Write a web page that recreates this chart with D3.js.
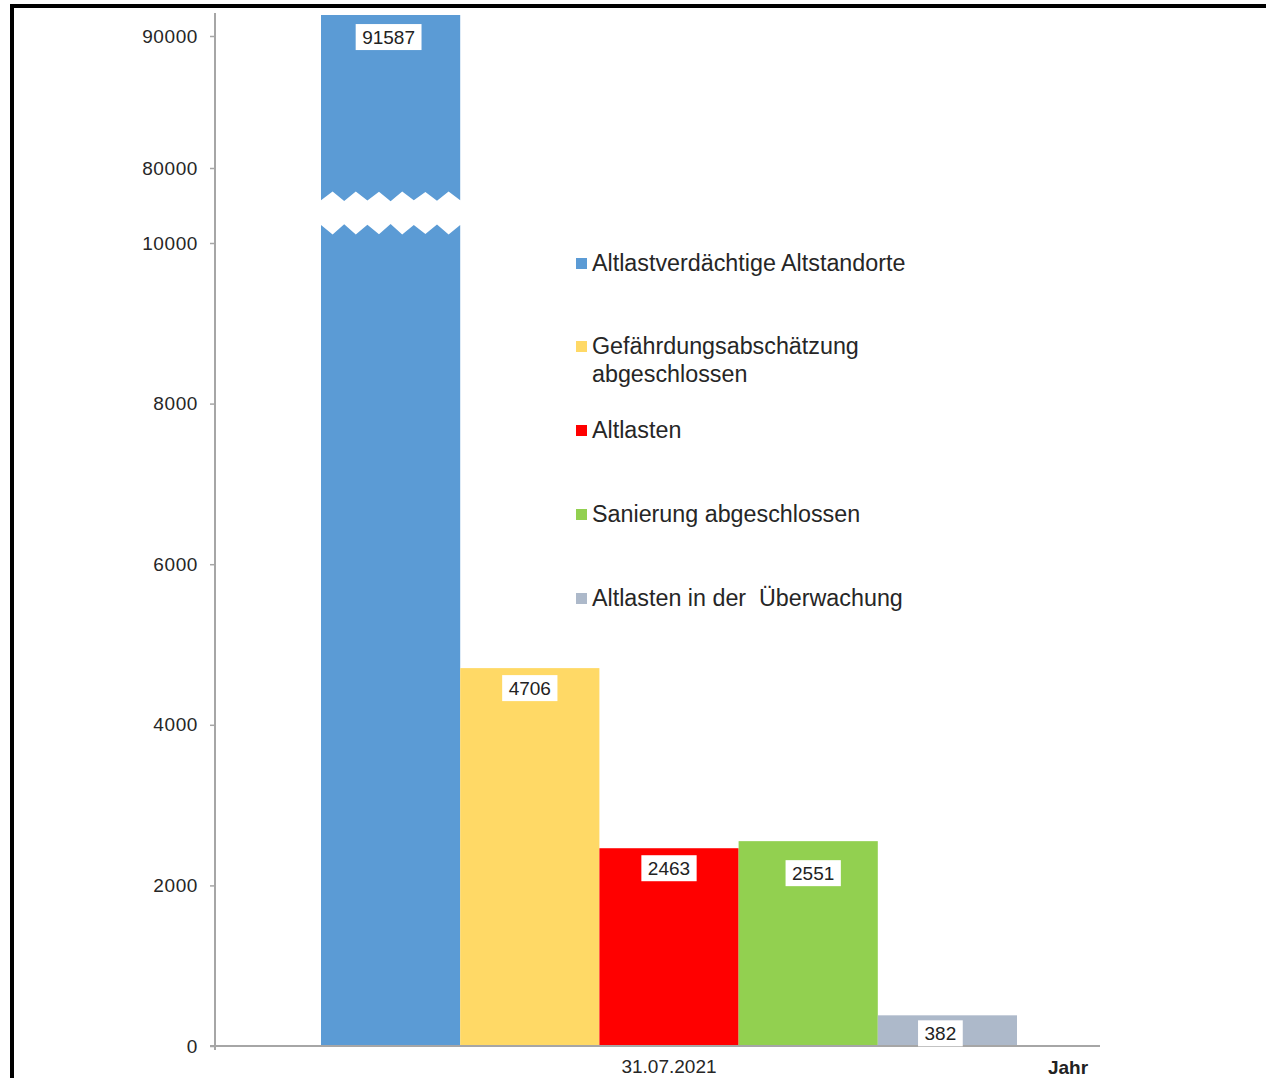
<!DOCTYPE html>
<html>
<head>
<meta charset="utf-8">
<script src="https://cdn.jsdelivr.net/npm/d3@7"></script>
<style>
  html, body { margin: 0; padding: 0; background: #fff; }
  svg { display: block; }
  text { font-family: "Liberation Sans", Arial, sans-serif; }
</style>
</head>
<body>
<svg id="chart" width="1266" height="1078"></svg>
<script>
// ---- data ----
const categories = ["31.07.2021"];
const seriesNames = [
  "Altlastverdächtige Altstandorte",
  "Gefährdungsabschätzung abgeschlossen",
  "Altlasten",
  "Sanierung abgeschlossen",
  "Altlasten in der  Überwachung"
];
const seriesValues = [91587, 4706, 2463, 2551, 382];
const lowerTicks = [0, 2000, 4000, 6000, 8000, 10000];
const upperTicks = [80000, 90000];
const legendLines = [
  ["Altlastverdächtige Altstandorte"],
  ["Gefährdungsabschätzung", "abgeschlossen"],
  ["Altlasten"],
  ["Sanierung abgeschlossen"],
  ["Altlasten in der  Überwachung"]
];
const seriesColors = ["#5B9BD5", "#FFD966", "#FF0000", "#92D050", "#ADB9CA"];
const xAxisTitle = "Jahr";

// label nudges (layout only)
const labelDy = [22, 20, 20, 32, 18];
const labelDx = [-2, 0, 0, 5, -7];

// ---- layout ----
const svg = d3.select("#chart");
const axisColor = "#a6a6a6";
const textColor = "#262626";

const axisX = 215, axisBottom = 1046, axisTop = 13, axisRight = 1100;

const yLow = d3.scaleLinear().domain([0, 10000]).range([1046, 243]);
const yUp = d3.scaleLinear().domain([80000, 90000]).range([168, 36]);
const lowerMaxShown = 10180;
const upperMinShown = 77650;
const yOf = v => v <= lowerMaxShown ? yLow(v) : yUp(v);

const xCat = d3.scaleBand().domain(categories).range([321, 1017]).padding(0);
const xSer = d3.scaleBand().domain(seriesNames).range(xCat.range()).padding(0);

// frame
svg.append("path")
  .attr("d", "M12,1078 L12,6 L1266,6")
  .attr("fill", "none").attr("stroke", "#000").attr("stroke-width", 4);

function zig(x0, x1, yc, amp, flip) {
  const n = 12;
  const pts = [];
  const pattern = [0, 1, 0.3, 1, 0.1, 0.9, 0.4, 1, 0, 0.8, 0.2, 1, 0];
  for (let i = n; i >= 0; i--) {
    const x = x0 + (x1 - x0) * i / n;
    const up = (i % 2 === 0) ? 1 : -1;
    const j = pattern[i] * 0.4 + 0.6;
    pts.push([x, yc + (flip ? -1 : 1) * up * amp * j]);
  }
  return pts;
}

const barsG = svg.append("g");
seriesNames.forEach((name, i) => {
  const v = seriesValues[i];
  const x0 = xSer(name), x1 = x0 + xSer.bandwidth();
  const col = seriesColors[i];
  if (v > lowerMaxShown) {
    const yTop = yUp(v), yCut = yUp(upperMinShown);
    let p = `M${x0},${yTop} L${x1},${yTop} `;
    zig(x0, x1, yCut - 2, 5.5, false).forEach(pt => p += `L${pt[0]},${pt[1]} `);
    barsG.append("path").attr("d", p + "Z").attr("fill", col);
    const yc = yLow(lowerMaxShown);
    let q = `M${x0},${axisBottom} L${x1},${axisBottom} `;
    zig(x0, x1, yc, 6, true).forEach(pt => q += `L${pt[0]},${pt[1]} `);
    barsG.append("path").attr("d", q + "Z").attr("fill", col);
  } else {
    barsG.append("rect")
      .attr("x", x0).attr("y", yLow(v))
      .attr("width", x1 - x0).attr("height", axisBottom - yLow(v))
      .attr("fill", col);
  }
});

// y axes
const fmt = d3.format("d");
const gLow = svg.append("g").attr("transform", `translate(${axisX},0)`)
  .call(d3.axisLeft(yLow).tickValues(lowerTicks).tickFormat(fmt).tickSize(5).tickPadding(12));
const gUp = svg.append("g").attr("transform", `translate(${axisX},0)`)
  .call(d3.axisLeft(yUp).tickValues(upperTicks).tickFormat(fmt).tickSize(5).tickPadding(12));
[gLow, gUp].forEach(g => {
  g.select(".domain").remove();
  g.selectAll(".tick line").attr("stroke", axisColor).attr("stroke-width", 1.5);
  g.selectAll(".tick text")
    .attr("fill", "#262626").style("font-size", "19px").style("letter-spacing", "0.6px")
    .style("font-family", '"Liberation Sans", Arial, sans-serif');
});
svg.append("line").attr("x1", axisX).attr("x2", axisX)
  .attr("y1", axisTop).attr("y2", axisBottom + 4)
  .attr("stroke", axisColor).attr("stroke-width", 2);

// x axis
const gx = svg.append("g").attr("transform", `translate(0,${axisBottom})`)
  .call(d3.axisBottom(xCat).tickSize(0).tickPadding(14));
gx.select(".domain").remove();
gx.selectAll(".tick text").attr("fill", "#262626").style("font-size", "19px")
  .style("font-family", '"Liberation Sans", Arial, sans-serif');
svg.append("line").attr("x1", axisX - 5).attr("x2", axisRight)
  .attr("y1", axisBottom).attr("y2", axisBottom)
  .attr("stroke", axisColor).attr("stroke-width", 2);

svg.append("text").attr("x", 1068).attr("y", 1074)
  .attr("text-anchor", "middle").attr("fill", "#222")
  .style("font-size", "19px").style("font-weight", "bold").text(xAxisTitle);

// data labels
const labG = svg.append("g");
seriesNames.forEach((name, i) => {
  const v = seriesValues[i];
  const cx = xSer(name) + xSer.bandwidth() / 2 + labelDx[i];
  let cy = yOf(v) + labelDy[i];
  const g = labG.append("g");
  const r = g.append("rect").attr("fill", "#fff");
  const t = g.append("text").attr("x", cx).attr("y", cy)
    .attr("text-anchor", "middle").attr("dominant-baseline", "central")
    .attr("fill", "#222").style("font-size", "19px").text(fmt(v));
  const w = t.node().getComputedTextLength() + 13;
  r.attr("x", cx - w / 2).attr("y", cy - 13).attr("width", w).attr("height", 26);
});

// legend
const legendTop = [263, 346, 430, 514, 598];
const legG = svg.append("g");
legendLines.forEach((lines, i) => {
  const y = legendTop[i];
  legG.append("rect").attr("x", 576).attr("y", y - 5).attr("width", 11).attr("height", 11)
    .attr("fill", seriesColors[i]);
  lines.forEach((ln, k) => {
    legG.append("text").attr("x", 592).attr("y", y + k * 28)
      .attr("dominant-baseline", "central")
      .attr("fill", textColor).style("font-size", "23.3px")
      .style("white-space", "pre").attr("xml:space", "preserve").text(ln);
  });
});
</script>
</body>
</html>
